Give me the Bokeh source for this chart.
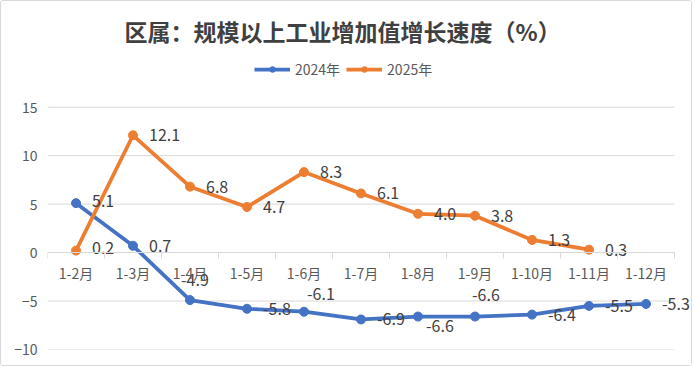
from bokeh.plotting import figure
from bokeh.models import (ColumnDataSource, FixedTicker, Legend, LegendItem, Range1d)
from bokeh.embed import file_html
from bokeh.resources import INLINE
from bokeh.core.properties import value

months = ["1-2月", "1-3月", "1-4月", "1-5月", "1-6月", "1-7月", "1-8月", "1-9月", "1-10月", "1-11月", "1-12月"]
v2024 = [5.1, 0.7, -4.9, -5.8, -6.1, -6.9, -6.6, -6.6, -6.4, -5.5, -5.3]
v2025 = [0.2, 12.1, 6.8, 4.7, 8.3, 6.1, 4.0, 3.8, 1.3, 0.3]
y_ticks = [-10, -5, 0, 5, 10, 15]

# label placement (screen px offsets, style only)
off24_x = [16, 16, -9, 16, 3, 16, 8, -3, 16, 16, 16]
off24_y = [-2, 0, -20, 0, -18, 0, 9, -22, 0, 0, 0]
off25_x = [16] * len(v2025)
off25_y = [-3, 0, 0, 0, 0, 0, 0, 0, 0, 0]

BLUE = "#4472C4"
ORANGE = "#ED7D31"
CJK = "Noto Sans CJK SC"
n = len(months)

x24 = list(range(len(v2024)))
x25 = list(range(len(v2025)))
src24 = ColumnDataSource(dict(x=x24, y=v2024, t=[f"{v:.1f}" for v in v2024], dx=off24_x, dy=off24_y))
src25 = ColumnDataSource(dict(x=x25, y=v2025, t=[f"{v:.1f}" for v in v2025], dx=off25_x, dy=off25_y))

# frame: 627px wide for the categories (+17px spare at the right for end labels),
# 244px tall for -10..15 (+50px headroom at top for the legend)
y_top = 15 + 50 * 25 / 244
p = figure(width=692, height=366, output_backend="svg", toolbar_location=None,
           x_range=Range1d(-0.5, n - 0.5 + 17 * n / 627), y_range=Range1d(-10, y_top),
           min_border_left=46, min_border_right=2, min_border_bottom=18, min_border_top=54)
p.styles = {"border": "1px solid #d9d9d9", "border-radius": "3px"}
p.outline_line_color = None
p.background_fill_color = "white"
p.border_fill_color = "white"

# title
p.title.text = "区属：规模以上工业增加值增长速度（%）"
p.title.align = "left"
p.title.offset = 77
p.title.standoff = 20
p.title.text_font = CJK
p.title.text_font_size = "23px"
p.title.text_font_style = "bold"
p.title.text_color = "#404040"

# grid lines drawn only over the category span
p.xgrid.visible = False
p.ygrid.visible = False
p.segment(x0=[-0.5] * len(y_ticks), x1=[n - 0.5] * len(y_ticks), y0=y_ticks, y1=y_ticks,
          line_color="#d9d9d9", line_width=1)

# axes
p.xaxis.fixed_location = 0
p.xaxis.bounds = (-0.5, n - 0.5)
p.xaxis.ticker = FixedTicker(ticks=list(range(n)),
                             minor_ticks=[i - 0.5 for i in range(n + 1)])
p.xaxis.major_label_overrides = {i: m for i, m in enumerate(months)}
p.xaxis.major_tick_out = 0
p.xaxis.major_tick_in = 0
p.xaxis.minor_tick_out = 6
p.xaxis.minor_tick_in = 0
p.xaxis.minor_tick_line_color = "#d9d9d9"
p.xaxis.axis_line_color = "#d9d9d9"
p.xaxis.major_label_standoff = 4
p.xaxis.major_label_text_font = CJK
p.xaxis.major_label_text_font_size = "14px"
p.xaxis.major_label_text_color = "#595959"

p.yaxis.ticker = FixedTicker(ticks=y_ticks)
p.yaxis.axis_line_color = None
p.yaxis.major_tick_line_color = None
p.yaxis.minor_tick_line_color = None
p.yaxis.major_tick_out = 0
p.yaxis.major_label_standoff = 10
p.yaxis.major_label_text_font = CJK
p.yaxis.major_label_text_font_size = "14px"
p.yaxis.major_label_text_color = "#595959"

# series
l24 = p.line("x", "y", source=src24, line_color=BLUE, line_width=3.75)
s24 = p.scatter("x", "y", source=src24, size=9, fill_color=BLUE, line_color=BLUE)
l25 = p.line("x", "y", source=src25, line_color=ORANGE, line_width=3.75)
s25 = p.scatter("x", "y", source=src25, size=9, fill_color=ORANGE, line_color=ORANGE)

for src in (src24, src25):
    p.text("x", "y", text="t", source=src, x_offset="dx", y_offset="dy",
           text_align="left", text_baseline="middle", text_font=value(CJK),
           text_font_size="16px", text_color="#404040")

legend = Legend(items=[LegendItem(label="2024年", renderers=[l24, s24]),
                       LegendItem(label="2025年", renderers=[l25, s25])],
                orientation="horizontal", location=(207, 270), margin=0,
                padding=0, spacing=6, border_line_color=None, background_fill_alpha=0,
                glyph_width=36, glyph_height=14, label_standoff=5,
                label_text_font=CJK, label_text_font_size="14px", label_text_color="#595959")
p.add_layout(legend, "center")

html = file_html(p, INLINE)
html = html.replace("<body>", '<body style="margin:0">', 1)
open("out.html", "w").write(html)
